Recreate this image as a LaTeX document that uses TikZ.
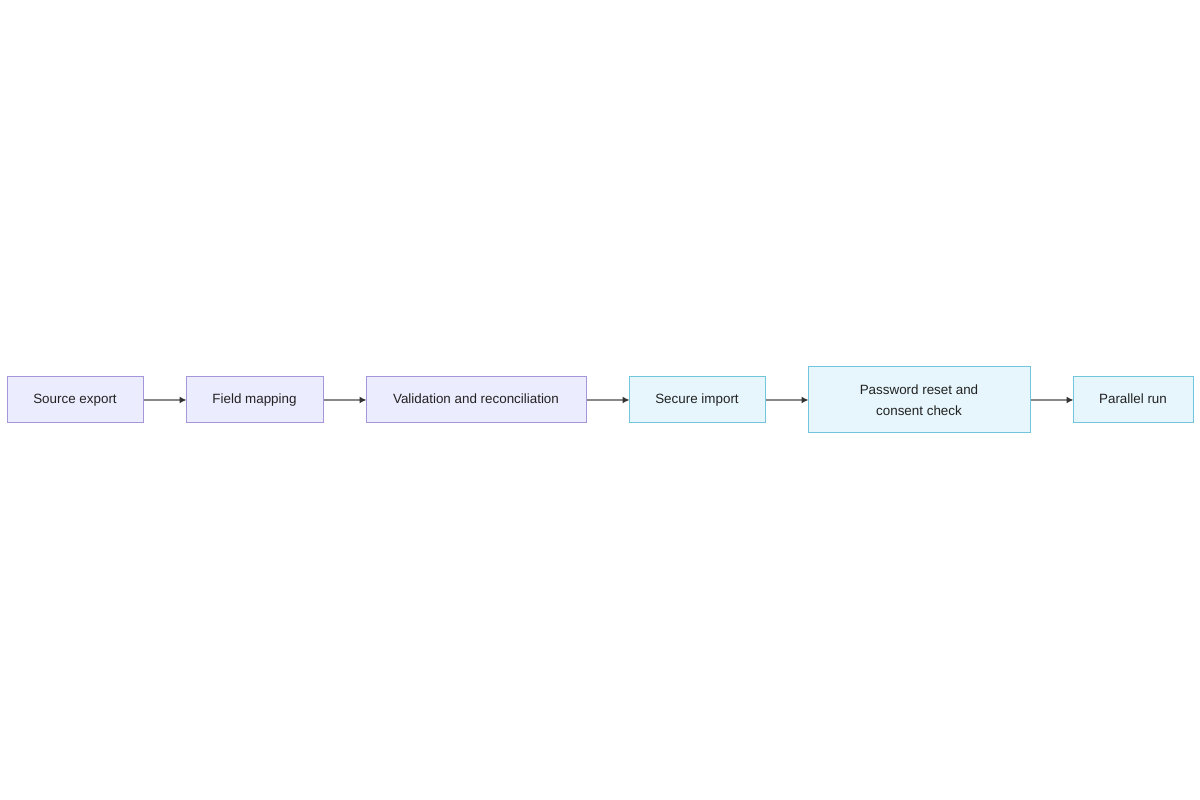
\documentclass[tikz,border=0pt]{standalone}
\usepackage{fontspec}
\setmainfont{Liberation Sans}
\usetikzlibrary{arrows.meta}
\definecolor{pfill}{HTML}{ECECFF}
\definecolor{pdraw}{HTML}{A596DA}
\definecolor{cfill}{HTML}{E6F6FC}
\definecolor{cdraw}{HTML}{72C6DC}
\definecolor{txt}{HTML}{222222}
\definecolor{lnk}{HTML}{888888}
\definecolor{tip}{HTML}{333333}
\tikzset{
  basebox/.style={line width=1pt, inner sep=0pt, text=txt, font=\fontsize{13.4}{21}\selectfont, align=center},
  oneline/.style={text height=10.4pt, text depth=2.4pt},
  pbox/.style={basebox, draw=pdraw, fill=pfill},
  cbox/.style={basebox, draw=cdraw, fill=cfill},
  link/.style={draw=lnk, line width=1.4pt, shorten >=-1pt, -{Latex[length=7pt,width=7pt,color=tip]}}
}
\begin{document}
\begin{tikzpicture}[x=1pt,y=1pt]
\useasboundingbox[fill=white] (0,0) rectangle (1200,800);
\node[pbox, oneline, minimum width=136pt, minimum height=46pt] (a) at (75,400) {Source export};
\node[pbox, oneline, minimum width=137pt, minimum height=46pt] (b) at (254.5,400) {Field mapping};
\node[pbox, oneline, minimum width=220pt, minimum height=46pt] (c) at (476,400) {Validation and reconciliation};
\node[cbox, oneline, minimum width=136pt, minimum height=46pt] (d) at (697,400) {Secure import};
\node[cbox, minimum width=222pt, minimum height=66pt] (e) at (919,400) {Password reset and\\consent check};
\node[cbox, oneline, minimum width=120pt, minimum height=46pt] (f) at (1133,400) {Parallel run};
\draw[link] (a) -- (b);
\draw[link] (b) -- (c);
\draw[link] (c) -- (d);
\draw[link] (d) -- (e);
\draw[link] (e) -- (f);
\end{tikzpicture}
\end{document}
